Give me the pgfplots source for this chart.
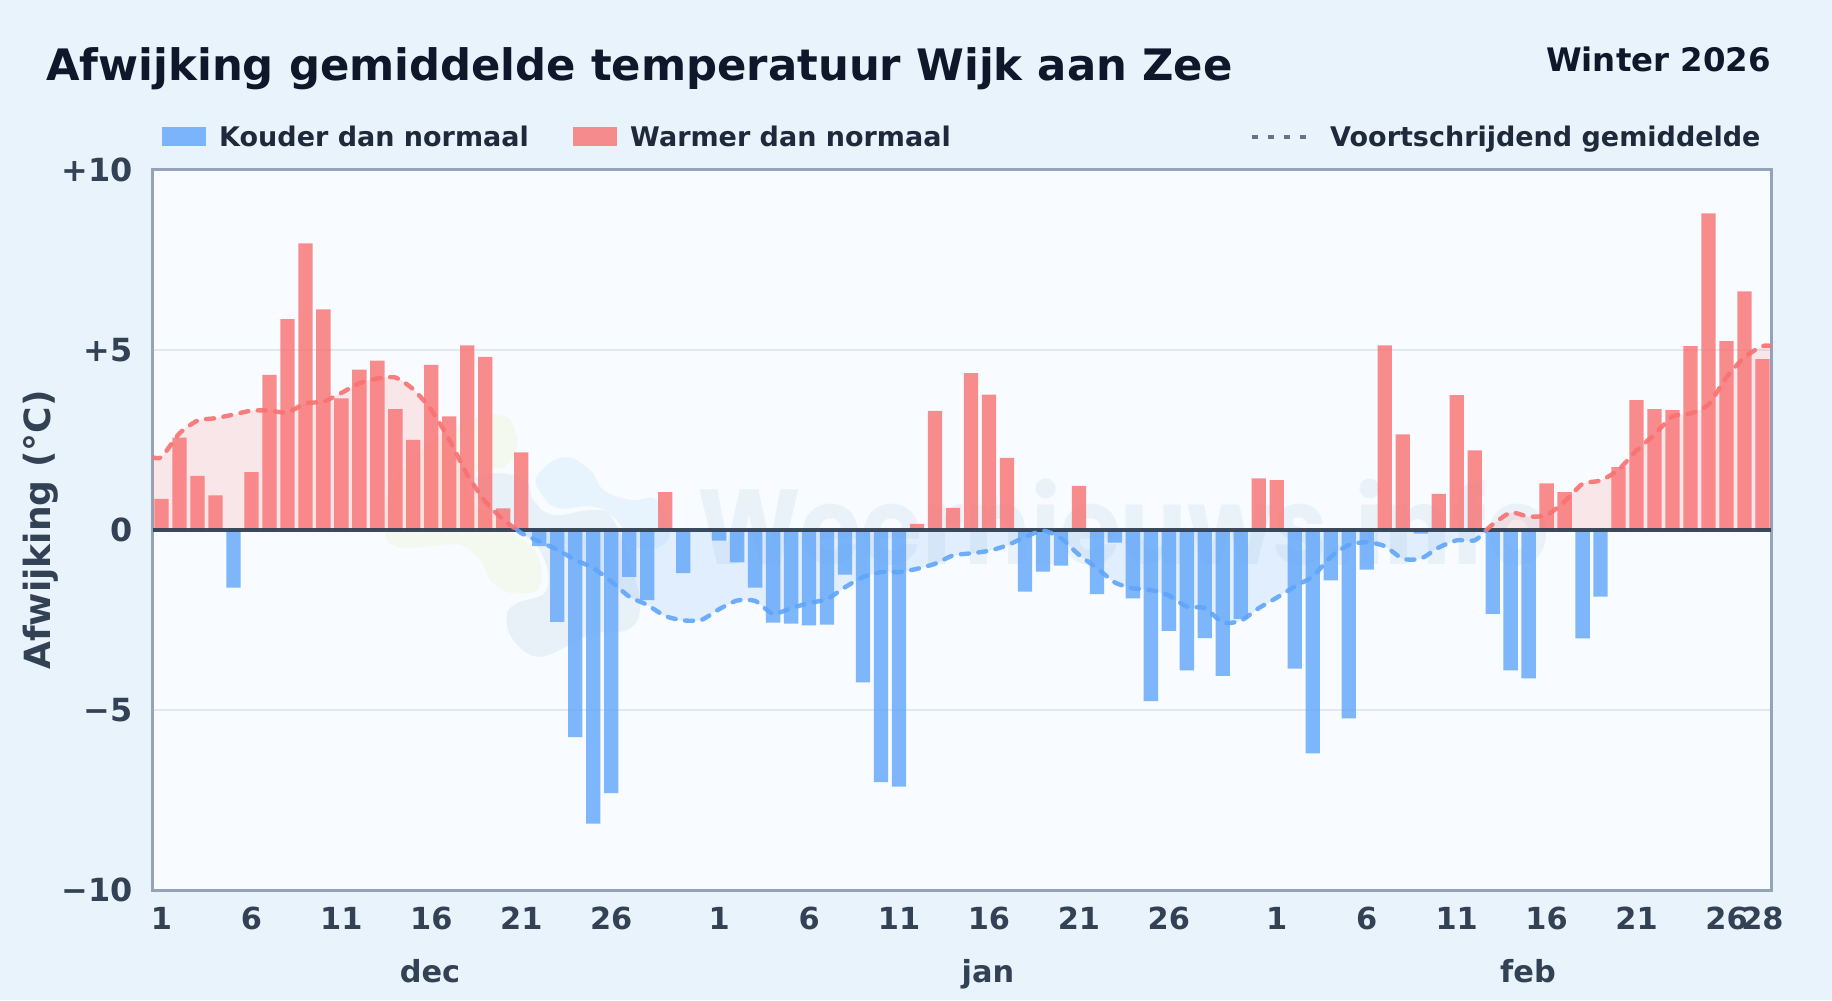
\documentclass[border=0pt]{standalone}
\usepackage{fontspec}
\setmainfont{DejaVu Sans}
\newfontfamily\wmfont{Poppins}
\usepackage{pgfplots}
\usepackage{pgfplotstable}
\pgfplotsset{compat=1.18}
\definecolor{pagebg}{HTML}{E9F3FC}
\definecolor{plotbg}{HTML}{F8FBFF}
\definecolor{coldc}{HTML}{60A5FA}
\definecolor{warmc}{HTML}{F87171}
\definecolor{frame}{HTML}{94A3B8}
\definecolor{gridc}{HTML}{E2E8EE}
\definecolor{zeroc}{HTML}{334155}
\definecolor{ticktxt}{HTML}{334155}
\definecolor{legtxt}{HTML}{1E293B}
\definecolor{titletxt}{HTML}{0F172A}
\definecolor{dashc}{HTML}{64748B}
\definecolor{wmgrey}{HTML}{E8F0F8}
\definecolor{wmtext}{HTML}{EAF2F9}
\definecolor{wmblue}{HTML}{E8F4FD}
\definecolor{wmgreen}{HTML}{F4F9F0}
\newcommand{\fs}[1]{\bfseries\fontsize{#1}{#1}\selectfont}
\pgfplotstableread{
x y
1 0.86
2 2.56
3 1.50
4 0.96
6 1.60
7 4.30
8 5.85
9 7.95
10 6.12
11 3.65
12 4.45
13 4.70
14 3.35
15 2.50
16 4.58
17 3.15
18 5.12
19 4.80
20 0.60
21 2.15
29 1.05
43 0.17
44 3.30
45 0.61
46 4.35
47 3.75
48 2.00
52 1.22
62 1.43
63 1.38
69 5.12
70 2.65
72 1.00
73 3.74
74 2.21
78 1.29
79 1.05
82 1.74
83 3.60
84 3.35
85 3.32
86 5.10
87 8.78
88 5.24
89 6.62
90 4.74
}\warmdata
\pgfplotstableread{
x y
5 -1.60
22 -0.45
23 -2.55
24 -5.75
25 -8.15
26 -7.30
27 -1.30
28 -1.95
30 -1.20
32 -0.30
33 -0.90
34 -1.60
35 -2.57
36 -2.60
37 -2.65
38 -2.63
39 -1.24
40 -4.23
41 -7.00
42 -7.12
49 -1.71
50 -1.16
51 -0.99
53 -1.78
54 -0.35
55 -1.90
56 -4.75
57 -2.80
58 -3.90
59 -3.00
60 -4.05
61 -2.47
64 -3.85
65 -6.20
66 -1.40
67 -5.23
68 -1.10
71 -0.10
75 -2.33
76 -3.90
77 -4.12
80 -3.01
81 -1.85
}\colddata
\pgfplotstableread{
x y
0.5 2.02
1 2.02
2 2.68
3 3.03
4 3.10
5 3.20
6 3.31
7 3.31
8 3.26
9 3.51
10 3.56
11 3.80
12 4.07
13 4.20
14 4.23
15 3.90
16 3.33
17 2.50
18 1.53
19 0.79
20 0.28
20.78 0
}\avgwarma
\pgfplotstableread{
x y
20.78 0
21 -0.09
22 -0.32
23 -0.55
24 -0.83
25 -1.06
26 -1.43
27 -1.85
28 -2.08
29 -2.39
30 -2.51
31 -2.50
32 -2.20
33 -1.96
34 -1.97
35 -2.33
36 -2.17
37 -2.03
38 -1.92
39 -1.59
40 -1.31
41 -1.17
42 -1.17
43 -1.08
44 -0.94
45 -0.71
46 -0.65
47 -0.58
48 -0.43
49 -0.20
50 -0.02
51 -0.23
52 -0.69
53 -1.06
54 -1.46
55 -1.62
56 -1.67
57 -1.82
58 -2.13
59 -2.17
60 -2.57
61 -2.52
62 -2.17
63 -1.88
64 -1.57
65 -1.29
66 -0.75
67 -0.42
68 -0.34
69 -0.45
70 -0.80
71 -0.80
72 -0.49
73 -0.29
74 -0.29
74.66 0
}\avgcold
\pgfplotstableread{
x y
74.66 0
75 0.15
76 0.48
77 0.37
78 0.41
79 0.79
80 1.28
81 1.37
82 1.67
83 2.21
84 2.65
85 3.15
86 3.23
87 3.48
88 4.24
89 4.79
90 5.10
90.5 5.10
}\avgwarmb
\begin{document}
\begin{tikzpicture}
\begin{scope}[x=1bp,y=-1bp,shift={(0,1000bp)}]
  \fill[pagebg] (0,0) rectangle (1832,1000);
  \fill[plotbg] (152.5,169.5) rectangle (1771.5,890.3);
  % watermark logo, faint
  \begin{scope}[shift={(360,400)},x=0.3333bp,y=-0.3333bp]
    \fill[wmgreen] plot[smooth cycle,tension=0.7] coordinates {(420,45)(470,110)(460,170)(430,220)(500,300)(540,450)(560,555)(470,580)(400,550)(360,480)(300,435)(200,440)(110,440)(75,395)(100,250)(250,100)};
    \fill[plotbg] plot[smooth cycle,tension=0.7] coordinates {(320,230)(420,205)(510,235)(530,290)(590,330)(700,315)(775,350)(835,520)(855,630)(810,705)(700,715)(620,755)(530,785)(445,730)(425,650)(455,600)(540,560)(525,450)(440,390)(345,310)};
    \fill[wmgrey] plot[smooth cycle,tension=0.7] coordinates {(340,240)(420,220)(500,245)(520,300)(580,345)(700,330)(760,360)(820,520)(840,630)(800,690)(700,700)(620,740)(530,770)(460,720)(440,650)(470,610)(560,570)(540,450)(450,380)(360,300)};
    \fill[wmblue] plot[smooth cycle,tension=0.7] coordinates {(530,230)(610,172)(690,210)(730,270)(810,300)(890,300)(930,390)(900,440)(830,440)(770,360)(700,320)(600,325)(550,290)};
  \end{scope}
  \node[anchor=base west,inner sep=0pt,text=wmtext] at (697,565) {\scalebox{0.925}[1]{\wmfont\fs{107}Weernieuws.info}};
\end{scope}
\begin{axis}[
  at={(152.5bp,109.7bp)},anchor=south west,
  scale only axis,width=1619bp,height=720.8bp,
  xmin=0.5,xmax=90.5,ymin=-10,ymax=10,
  axis line style={frame,line width=3bp},
  major tick length=0pt,
  ytick={-10,-5,0,5,10},
  yticklabels={−10,−5,0,+5,+10},
  xtick={1,6,11,16,21,26,32,37,42,47,52,57,63,68,73,78,83,88,90},
  xticklabels={1,6,11,16,21,26,1,6,11,16,21,26,1,6,11,16,21,26,28},
  xticklabel style={font=\fs{30.5},text=ticktxt,anchor=base,inner sep=0pt,outer sep=0pt,yshift=-39bp},
  yticklabel style={font=\fs{32},text=ticktxt,anchor=east,inner sep=0pt,outer sep=0pt,xshift=-20bp},
  ymajorgrids,
  grid style={gridc,line width=2bp},
  clip=true,
]
\addplot[draw=none,fill=warmc,fill opacity=0.15,smooth,tension=0.4] table[x=x,y=y]{\avgwarma} \closedcycle;
\addplot[draw=none,fill=coldc,fill opacity=0.15,smooth,tension=0.4] table[x=x,y=y]{\avgcold} \closedcycle;
\addplot[draw=none,fill=warmc,fill opacity=0.15,smooth,tension=0.4] table[x=x,y=y]{\avgwarmb} \closedcycle;
\addplot[ybar,bar width=14.3bp,bar shift=0pt,draw=none,fill=coldc,fill opacity=0.8] table[x=x,y=y]{\colddata};
\addplot[ybar,bar width=14.3bp,bar shift=0pt,draw=none,fill=warmc,fill opacity=0.8] table[x=x,y=y]{\warmdata};
\addplot[zeroc,line width=4bp,draw opacity=0.95] coordinates {(0.5,0) (90.5,0)};
\addplot[warmc,line width=4.4bp,smooth,tension=0.4,line cap=round,dash pattern=on 8bp off 9.5bp,draw opacity=0.9] table[x=x,y=y]{\avgwarma};
\addplot[coldc,line width=4.4bp,smooth,tension=0.4,line cap=round,dash pattern=on 8bp off 9.5bp,draw opacity=0.9] table[x=x,y=y]{\avgcold};
\addplot[warmc,line width=4.4bp,smooth,tension=0.4,line cap=round,dash pattern=on 8bp off 9.5bp,draw opacity=0.9] table[x=x,y=y]{\avgwarmb};
\end{axis}
\begin{scope}[x=1bp,y=-1bp,shift={(0,1000bp)}]
  \node[anchor=base west,inner sep=0pt,text=titletxt] at (46,81) {\fs{43.5}Afwijking gemiddelde temperatuur Wijk aan Zee};
  \node[anchor=base east,inner sep=0pt,text=titletxt] at (1771,72) {\fs{32.5}Winter 2026};
  \fill[coldc,opacity=0.8] (162,127) rectangle (206,146);
  \node[anchor=base west,inner sep=0pt,text=legtxt] at (219,147) {\fs{27.1}Kouder dan normaal};
  \fill[warmc,opacity=0.8] (573,127) rectangle (617,146);
  \node[anchor=base west,inner sep=0pt,text=legtxt] at (630,147) {\fs{27.1}Warmer dan normaal};
  \draw[dashc,line width=4bp,dash pattern=on 6bp off 10bp] (1251.5,137) -- (1310,137);
  \node[anchor=base west,inner sep=0pt,text=legtxt] at (1330,147) {\fs{27.1}Voortschrijdend gemiddelde};
  \node[anchor=base,inner sep=0pt,text=ticktxt,rotate=90] at (50,530) {\fs{36.2}Afwijking (°C)};
  \node[anchor=base,inner sep=0pt,text=ticktxt] at (430,982) {\fs{30.5}dec};
  \node[anchor=base,inner sep=0pt,text=ticktxt] at (988,982) {\fs{30.5}jan};
  \node[anchor=base,inner sep=0pt,text=ticktxt] at (1528,982) {\fs{30.5}feb};
  \path[use as bounding box] (0,0) rectangle (1832,1000);
\end{scope}
\end{tikzpicture}
\end{document}
